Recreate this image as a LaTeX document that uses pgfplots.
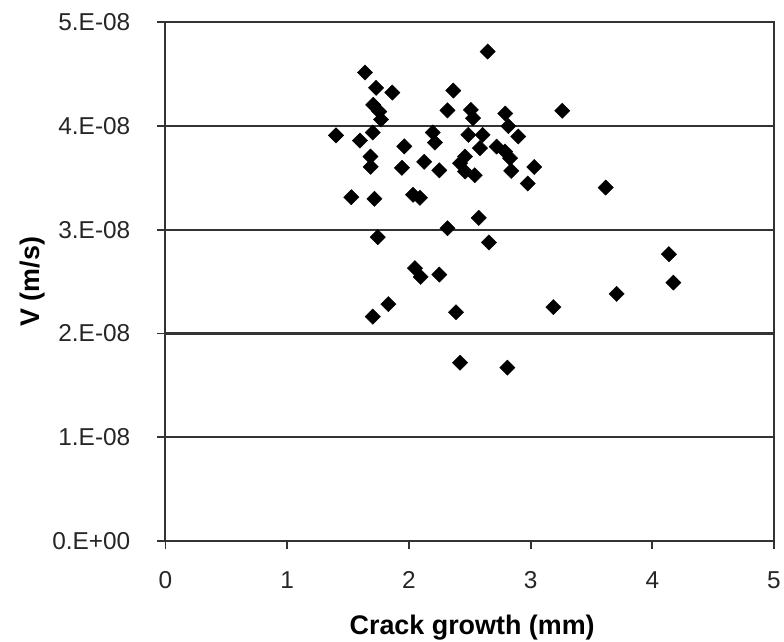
\documentclass[border=0pt]{standalone}
\usepackage{pgfplots}
\pgfplotsset{compat=1.18}
\usepackage{fontspec}
\setmainfont{Liberation Sans}
\begin{document}
\begin{tikzpicture}
\useasboundingbox (-165.5bp,-101bp) rectangle (618.5bp,541bp);
\begin{axis}[
  at={(0,0)}, anchor=south west,
  scale only axis, width=608.5bp, height=518.7bp,
  xmin=0, xmax=5, ymin=0, ymax=5e-8,
  scaled y ticks=false, scaled x ticks=false,
  axis line style={line width=2bp, black!80},
  xtick={0,1,2,3,4,5}, xticklabels={0,1,2,3,4,5},
  ytick={0,1e-8,2e-8,3e-8,4e-8,5e-8},
  yticklabels={0.E+00,1.E-08,2.E-08,3.E-08,4.E-08,5.E-08},
  xtick pos=bottom, ytick pos=left,
  tick align=outside, major tick length=8bp,
  tick style={line width=1.8bp, black!80},
  ymajorgrids, grid style={line width=2.2bp, black!80},
  ticklabel style={font=\fontsize{24.5}{27}\selectfont, text=black!85},
  yticklabel style={anchor=east, inner sep=0pt, xshift=-27bp},
  xticklabel style={anchor=center, inner sep=0pt, yshift=-31bp},
  xlabel={Crack growth (mm)}, ylabel={V (m/s)},
  label style={font=\fontsize{27}{30}\selectfont\bfseries},
  xlabel style={at={(axis description cs:0.504,-0.166)}, anchor=center},
  ylabel style={at={(axis description cs:-0.219,0.5)}, anchor=center, rotate=0},
]
\addplot[only marks, mark=square*, mark size=5.4bp, mark options={rotate=45, fill=black, draw=black}] table {
x y
2.647 4.718e-8
1.639 4.516e-8
1.730 4.368e-8
1.864 4.323e-8
2.365 4.342e-8
1.707 4.204e-8
1.757 4.140e-8
1.771 4.063e-8
2.317 4.151e-8
2.509 4.156e-8
2.527 4.076e-8
2.792 4.121e-8
2.817 3.999e-8
3.260 4.147e-8
1.401 3.910e-8
1.598 3.860e-8
1.703 3.937e-8
2.196 3.937e-8
2.214 3.841e-8
1.962 3.804e-8
2.488 3.915e-8
2.606 3.915e-8
2.584 3.787e-8
2.721 3.802e-8
2.790 3.754e-8
2.899 3.899e-8
2.831 3.690e-8
1.684 3.706e-8
1.686 3.607e-8
1.943 3.597e-8
2.126 3.655e-8
2.250 3.573e-8
2.461 3.706e-8
2.420 3.642e-8
2.461 3.561e-8
2.541 3.525e-8
2.841 3.568e-8
3.030 3.605e-8
2.977 3.446e-8
1.527 3.314e-8
1.717 3.298e-8
2.034 3.337e-8
2.091 3.308e-8
2.574 3.115e-8
2.317 3.015e-8
1.744 2.929e-8
2.658 2.878e-8
2.050 2.630e-8
2.097 2.546e-8
2.250 2.568e-8
1.831 2.283e-8
1.703 2.163e-8
2.387 2.205e-8
3.187 2.254e-8
2.420 1.719e-8
2.809 1.671e-8
3.617 3.407e-8
4.137 2.765e-8
4.173 2.491e-8
3.707 2.382e-8
};
\end{axis}
\end{tikzpicture}
\end{document}
